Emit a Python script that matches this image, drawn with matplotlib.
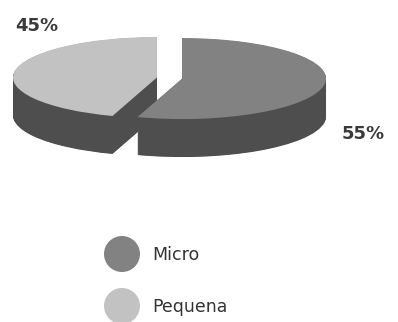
import numpy as np
import matplotlib
matplotlib.use("Agg")
import matplotlib.pyplot as plt
from matplotlib.patches import Wedge, Ellipse
from matplotlib.transforms import Affine2D

# Data
categories = ["Micro", "Pequena"]
values = [55, 45]
pct_labels = ["55%", "45%"]

top_colors = ["#828282", "#c2c2c2"]
side_color = "#4e4e4e"
text_color = "#333333"

fig = plt.figure(figsize=(3.98, 3.22), dpi=100)
ax = fig.add_axes([0, 0, 1, 1])
ax.set_xlim(0, 398)
ax.set_ylim(322, 0)
ax.axis("off")

cx, cy = 169.5, 78.0
a, b = 144.0, 40.5
depth = 38.0
explode = 0.088

total = float(sum(values))
ang = 90.0
wedges = []
for v in values:
    sweep = 360.0 * v / total
    t2 = ang
    t1 = ang - sweep
    wedges.append((t1, t2))
    ang = t1

def wedge_transform(theta1, theta2, dy):
    mid = np.deg2rad((theta1 + theta2) / 2.0)
    ex = explode * np.cos(mid) * a
    ey = -explode * np.sin(mid) * b
    return Affine2D().scale(a, -b).translate(cx + ex, cy + ey + dy) + ax.transData

order = [1, 0]
for i in order:
    t1, t2 = wedges[i]
    for dy in np.arange(depth, 0, -0.5):
        w = Wedge((0, 0), 1.0, t1, t2, facecolor=side_color, edgecolor="none",
                  transform=wedge_transform(t1, t2, dy))
        ax.add_patch(w)
    w = Wedge((0, 0), 1.0, t1, t2, facecolor=top_colors[i], edgecolor="none",
              transform=wedge_transform(t1, t2, 0))
    ax.add_patch(w)

# percentage labels
ax.text(15, 26, pct_labels[1], fontsize=13, fontweight="bold", color="#3a3a3a",
        ha="left", va="center", fontfamily="DejaVu Sans")
ax.text(342, 134, pct_labels[0], fontsize=13, fontweight="bold", color="#3a3a3a",
        ha="left", va="center", fontfamily="DejaVu Sans")

# legend
leg_y = [254, 306]
for i, cat in enumerate(categories):
    ax.add_patch(Ellipse((122, leg_y[i]), 36, 36, facecolor=top_colors[i], edgecolor="none"))
    ax.text(152, leg_y[i] + 1, cat, fontsize=12.5, color=text_color, ha="left", va="center",
            fontfamily="DejaVu Sans")

fig.savefig("out.png", dpi=100, facecolor="white")
